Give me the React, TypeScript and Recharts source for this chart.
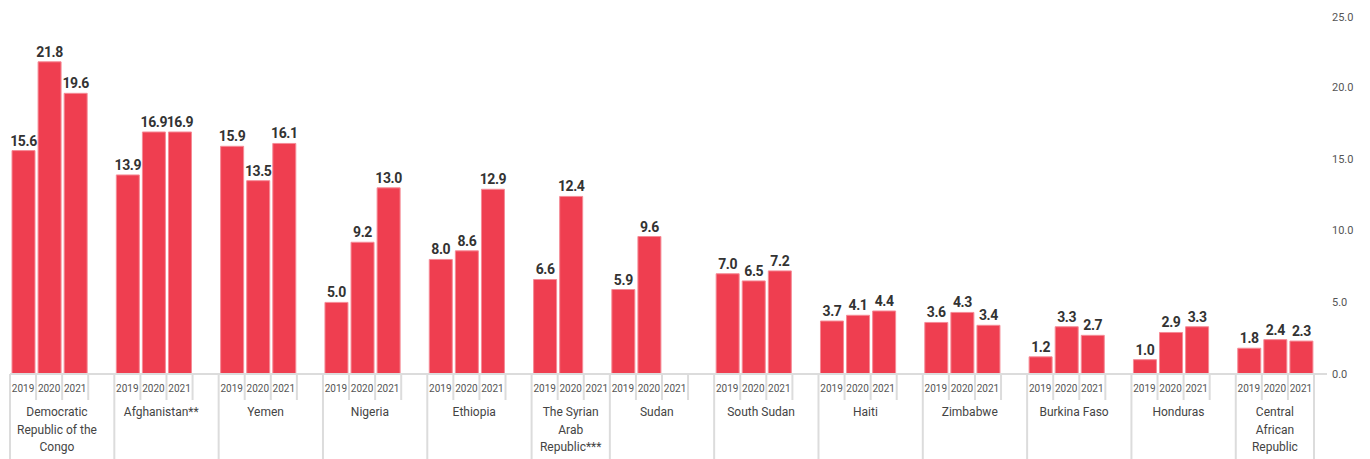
import React from 'react';
import { BarChart, Bar, XAxis, YAxis, LabelList } from 'recharts';

const countries = [
  'Democratic\nRepublic of the\nCongo',
  'Afghanistan**',
  'Yemen',
  'Nigeria',
  'Ethiopia',
  'The Syrian\nArab\nRepublic***',
  'Sudan',
  'South Sudan',
  'Haiti',
  'Zimbabwe',
  'Burkina Faso',
  'Honduras',
  'Central\nAfrican\nRepublic',
];
const years = ['2019', '2020', '2021'];
const v2019 = [15.6, 13.9, 15.9, 5.0, 8.0, 6.6, 5.9, 7.0, 3.7, 3.6, 1.2, 1.0, 1.8];
const v2020 = [21.8, 16.9, 13.5, 9.2, 8.6, 12.4, 9.6, 6.5, 4.1, 4.3, 3.3, 2.9, 2.4];
const v2021: (number | null)[] = [19.6, 16.9, 16.1, 13.0, 12.9, null, null, 7.2, 4.4, 3.4, 2.7, 3.3, 2.3];
const hasSpacer = [true, true, true, true, true, false, true, true, true, true, true, true, false];
const yTicks = [0, 5, 10, 15, 20, 25];

const series = [v2019, v2020, v2021];

type Slot = {
  key: string;
  year: string;
  group: number;
  first: boolean;
  value: number | null;
};

const table: Slot[] = [];
countries.forEach((_, gi) => {
  years.forEach((yr, yi) => {
    table.push({ key: `${gi}-${yr}`, year: yr, group: gi, first: yi === 0, value: series[yi][gi] });
  });
  if (hasSpacer[gi]) table.push({ key: `${gi}-gap`, year: '', group: gi, first: false, value: null });
});

const W = 1354;
const H = 451;
const MARGIN = { top: 8, right: 0, bottom: 0, left: 2 };
const Y_AXIS_W = 48;
const X_AXIS_H = 85;
const PLOT_W = W - MARGIN.left - MARGIN.right - Y_AXIS_W;
const SLOT = PLOT_W / table.length;
const GRID = '#dcdcdc';
const FONT = 'Roboto, "Noto Sans", sans-serif';

const XTick = (props: any) => {
  const { x, y, index } = props;
  const d = table[index];
  if (!d) return null;
  const left = x - SLOT / 2;
  const isLast = index === table.length - 1;
  const groupSlots = 3 + (hasSpacer[d.group] ? 1 : 0);
  const labelCx = left + Math.min(groupSlots * SLOT, 3.6 * SLOT) / 2;
  const lines = countries[d.group].split('\n');
  return (
    <g>
      <line x1={left} x2={left} y1={y} y2={d.first ? y + X_AXIS_H : y + 26} stroke={GRID} strokeWidth={2} />
      {isLast && (
        <line x1={x + SLOT / 2} x2={x + SLOT / 2} y1={y} y2={y + X_AXIS_H} stroke={GRID} strokeWidth={2} />
      )}
      {d.year && (
        <text x={x} y={y + 14} textAnchor="middle" dominantBaseline="central" fontSize={10} fill="#555" fontFamily={FONT}>
          {d.year}
        </text>
      )}
      {d.first &&
        lines.map((ln, i) => (
          <text
            key={i}
            x={labelCx}
            y={y + 38 + i * 17.5}
            textAnchor="middle"
            dominantBaseline="central"
            fontSize={12}
            fill="#444"
            fontFamily={FONT}
          >
            {ln}
          </text>
        ))}
    </g>
  );
};

const YTick = (props: any) => {
  const { x, y, payload } = props;
  return (
    <g>
      {payload.value === 0 && <line x1={x - 18} x2={x - 5} y1={y} y2={y} stroke={GRID} strokeWidth={2} />}
      <text x={x} y={y} dominantBaseline="central" textAnchor="start" fontSize={11} fill="#555" fontFamily={FONT}>
        {Number(payload.value).toFixed(1)}
      </text>
    </g>
  );
};

export default function App() {
  return (
    <div style={{ width: W, height: H, fontFamily: FONT }}>
      <BarChart width={W} height={H} data={table} margin={MARGIN} barCategoryGap={0}>
        <XAxis
          dataKey="key"
          type="category"
          interval={0}
          height={X_AXIS_H}
          tickSize={0}
          tickMargin={0}
          tickLine={false}
          axisLine={{ stroke: GRID, strokeWidth: 2 }}
          tick={<XTick />}
        />
        <YAxis
          orientation="right"
          width={Y_AXIS_W}
          domain={[0, 25]}
          ticks={yTicks}
          tickSize={6}
          tickMargin={12}
          tickLine={false}
          axisLine={false}
          tick={<YTick />}
        />
        <Bar dataKey="value" fill="#ef3e50" stroke="#f58b96" strokeWidth={1} barSize={23} isAnimationActive={false}>
          <LabelList
            dataKey="value"
            position="top"
            offset={5}
            formatter={(v: any) => (v == null ? '' : Number(v).toFixed(1))}
            style={{ fill: '#333', fontWeight: 700, fontSize: 14, letterSpacing: -0.4, fontFamily: FONT }}
          />
        </Bar>
      </BarChart>
    </div>
  );
}
